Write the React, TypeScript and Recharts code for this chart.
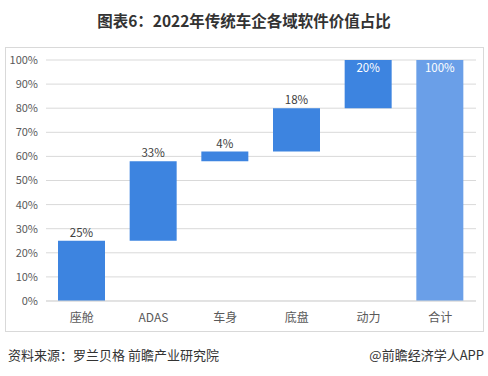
import { BarChart, Bar, XAxis, YAxis, CartesianGrid, LabelList, Cell } from "recharts";

const categories = ["座舱", "ADAS", "车身", "底盘", "动力", "合计"];
const shares = [25, 33, 4, 18, 20, 100];
const isTotal = [false, false, false, false, false, true];
const yTicks = [0, 10, 20, 30, 40, 50, 60, 70, 80, 90, 100];

// waterfall: invisible base + visible step
let running = 0;
const data = categories.map((name, i) => {
  const base = isTotal[i] ? 0 : running;
  if (!isTotal[i]) running += shares[i];
  return { name, base, value: shares[i] };
});

const BLUE = "#3d84e0";
const TOTAL_BLUE = "#6a9fe8";

function StepLabel(props: any) {
  const { x, y, width, value, index } = props;
  const inside = index >= 4;
  return (
    <text
      x={x + width / 2}
      y={inside ? y + 12 : y - 4}
      textAnchor="middle"
      fontSize={11.5}
      fill={inside ? "#ffffff" : "#404040"}
      fontFamily="'Noto Sans CJK SC', 'Noto Sans', sans-serif"
    >
      {value}%
    </text>
  );
}

export default function App() {
  const font = "'Noto Sans CJK SC', 'Noto Sans', sans-serif";
  return (
    <div style={{ position: "absolute", left: 0, top: 0, width: 488, height: 376, background: "#fff", fontFamily: font }}>
      <div style={{ position: "absolute", top: 9, left: 0, width: 488, textAlign: "center", fontSize: 15.5, fontWeight: 700, color: "#333" }}>
        图表6：2022年传统车企各域软件价值占比
      </div>
      <div style={{ position: "absolute", left: 5, top: 47, width: 477, height: 283, border: "1px solid #d9d9d9" }} />
      <div style={{ position: "absolute", left: 5, top: 47 }}>
        <BarChart
          width={479}
          height={285}
          data={data}
          margin={{ top: 13, right: 8, left: 0, bottom: 0 }}
          barSize={47}
        >
          <CartesianGrid vertical={false} stroke="#d9d9d9" />
          <XAxis
            dataKey="name"
            height={31}
            tickLine={false}
            axisLine={{ stroke: "#d9d9d9" }}
            tick={{ fontSize: 12, fill: "#595959", fontFamily: font }}
            tickMargin={6}
          />
          <YAxis
            width={41}
            domain={[0, 100]}
            ticks={yTicks}
            interval={0}
            tickLine={false}
            axisLine={false}
            tickFormatter={(v) => `${v}%`}
            tick={{ fontSize: 11, fill: "#595959", fontFamily: font }}
          />
          <Bar dataKey="base" stackId="w" fill="transparent" isAnimationActive={false} />
          <Bar dataKey="value" stackId="w" isAnimationActive={false}>
            {data.map((d, i) => (
              <Cell key={d.name} fill={isTotal[i] ? TOTAL_BLUE : BLUE} />
            ))}
            <LabelList dataKey="value" content={<StepLabel />} />
          </Bar>
        </BarChart>
      </div>
      <div style={{ position: "absolute", left: 8, top: 345, fontSize: 13, color: "#333" }}>
        资料来源：罗兰贝格 前瞻产业研究院
      </div>
      <div style={{ position: "absolute", right: 4, top: 345, fontSize: 13, color: "#333" }}>
        @前瞻经济学人APP
      </div>
    </div>
  );
}
